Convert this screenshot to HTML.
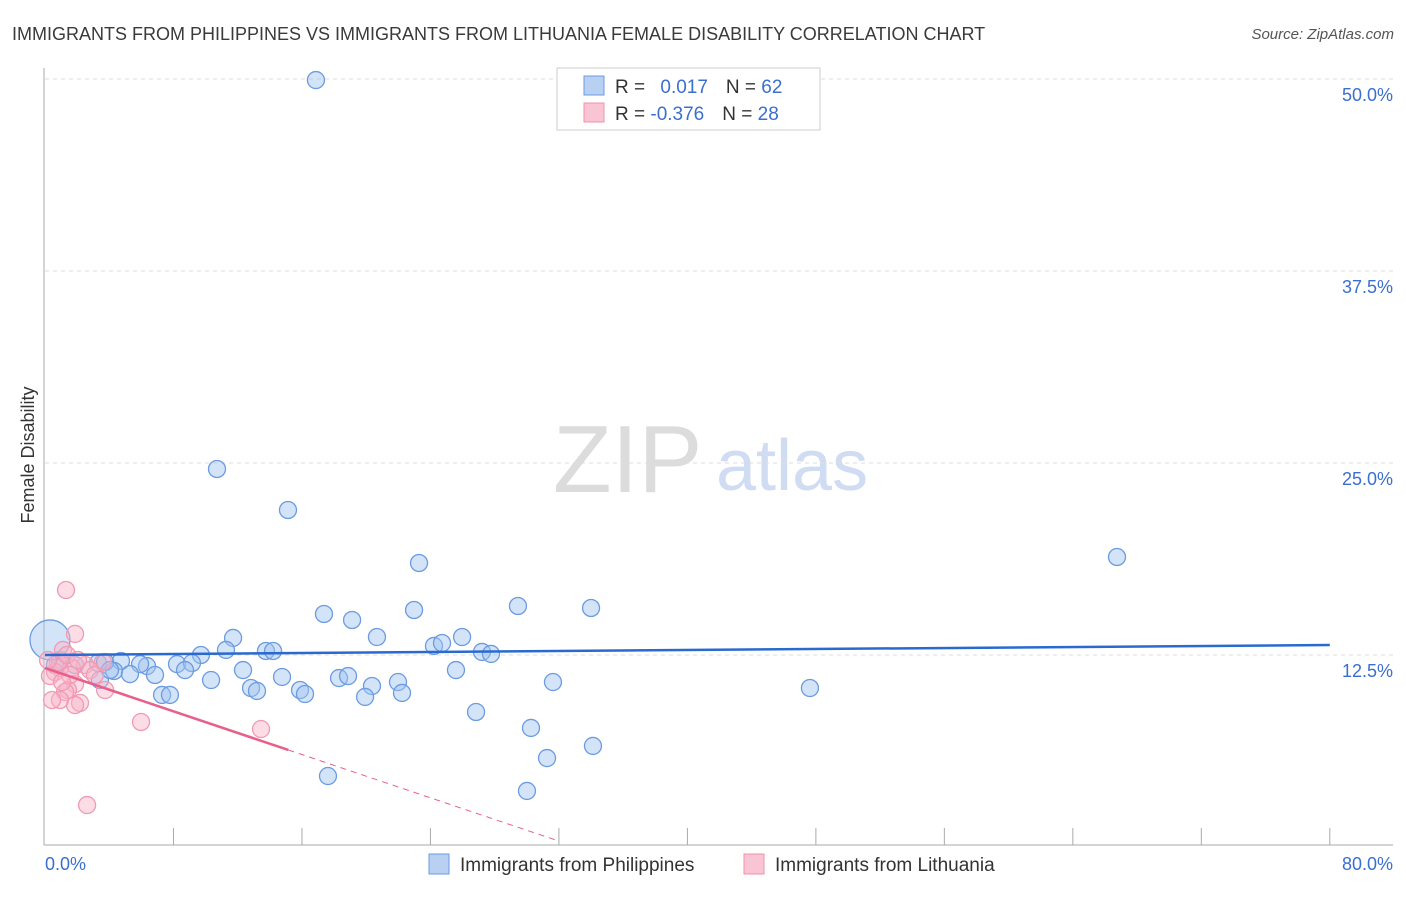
<!DOCTYPE html>
<html><head><meta charset="utf-8"><style>
body{margin:0;background:#fff;font-family:"Liberation Sans",sans-serif;}
svg text{font-family:"Liberation Sans",sans-serif;}
</style></head><body>
<svg id="chart" width="1406" height="892" xmlns="http://www.w3.org/2000/svg">
<text x="12" y="40" font-size="18" fill="#3a3a3a">IMMIGRANTS FROM PHILIPPINES VS IMMIGRANTS FROM LITHUANIA FEMALE DISABILITY CORRELATION CHART</text>
<text x="1394" y="39" font-size="15" fill="#555" font-style="italic" text-anchor="end">Source: ZipAtlas.com</text>
<g>
<text x="553" y="492" font-size="96" fill="#dcdcdc" font-family="Liberation Serif, serif">ZIP</text>
<text x="716" y="490" font-size="72" fill="#cfdcf2">atlas</text>
</g>
<g id="grid"></g>
<g id="axes"></g>
<g id="pts"></g>
<g id="trend"></g>
<text transform="translate(34,455) rotate(-90)" font-size="18" fill="#333" text-anchor="middle">Female Disability</text>
<g>
<rect x="557" y="68" width="263" height="62" fill="#fff" stroke="#ccc"/>
<rect x="584" y="76" width="20" height="19" fill="#b8d1f3" stroke="#6b9be0"/>
<rect x="584" y="103" width="20" height="19" fill="#f9c4d4" stroke="#f090ae"/>
<text x="615" y="93" font-size="19" fill="#333">R = <tspan fill="#3a6fd0" dx="10">0.017</tspan><tspan dx="18" fill="#333">N = </tspan><tspan fill="#3a6fd0">62</tspan></text>
<text x="615" y="120" font-size="19" fill="#333">R = <tspan fill="#3a6fd0">-0.376</tspan><tspan dx="18" fill="#333">N = </tspan><tspan fill="#3a6fd0">28</tspan></text>
</g>
<g>
<rect x="429" y="854" width="20" height="20" fill="#b8d1f3" stroke="#6b9be0"/>
<text x="460" y="871" font-size="19" fill="#333">Immigrants from Philippines</text>
<rect x="744" y="854" width="20" height="20" fill="#f9c4d4" stroke="#f090ae"/>
<text x="775" y="871" font-size="19" fill="#333">Immigrants from Lithuania</text>
</g>
</svg>
<script>
const yTicks=[12.5,25,37.5,50];
const yTickLabels=["12.5%","25.0%","37.5%","50.0%"];
const xTickLabels=["0.0%","80.0%"];
const blueX=[16.87,10.71,15.13,23.29,66.75,17.37,19.12,22.98,29.45,34.0,20.67,24.22,24.72,25.97,27.21,27.77,11.71,13.76,14.2,11.27,9.71,8.22,9.15,6.35,5.92,4.73,4.3,5.29,6.85,8.72,10.34,12.33,14.76,18.31,18.87,20.36,21.98,22.23,19.93,15.88,16.19,12.83,13.2,7.29,7.78,25.59,31.63,47.63,26.84,30.26,31.26,34.12,17.62,30.01,3.42,3.3,3.74,1.87,0.93,0.62,4.05,0.31];
const blueY=[49.93,24.61,21.94,18.49,18.88,15.17,14.78,15.43,15.69,15.56,13.67,13.09,13.28,13.67,12.7,12.57,13.61,12.76,12.76,12.83,12.5,11.91,11.98,11.78,11.91,12.11,11.46,11.26,11.2,11.52,10.87,11.52,11.07,11.0,11.13,10.48,10.74,10.03,9.77,10.22,9.96,10.35,10.16,9.9,9.9,11.52,10.74,10.35,8.79,7.75,5.79,6.58,4.62,3.65,10.87,11.98,12.04,11.85,12.17,11.85,11.52,13.48];
const pinkX=[1.31,1.87,1.12,3.61,2.49,1.68,0.93,0.62,0.31,1.87,1.43,1.25,3.74,2.18,1.87,0.93,0.44,5.98,13.45,2.62,0.81,1.56,2.8,1.06,1.37,0.19,2.05,3.11];
const pinkY=[16.73,13.87,12.83,12.04,11.85,11.65,11.65,11.39,11.13,10.61,10.22,10.09,10.22,9.38,9.24,9.57,9.57,8.14,7.68,2.73,12.04,11.2,11.52,10.74,12.5,12.17,12.17,11.2];
const blueTrend=[12.5,13.15];
const pinkTrend=[11.65,-0.352];
const NS="http://www.w3.org/2000/svg";
const X=v=>45+v*16.06, Y=v=>847-v*15.36;
function mk(p,t,a){const e=document.createElementNS(NS,t);for(const k in a)e.setAttribute(k,a[k]);document.getElementById(p).appendChild(e);return e;}
yTicks.forEach((t,i)=>{
 const g=mk('grid','line',{x1:45,x2:1393,y1:Y(t),y2:Y(t),stroke:'#ddd','stroke-dasharray':'4,4'});
 
 
 const l=mk('grid','text',{x:1393,y:Y(t)+22,'font-size':18,fill:'#3a6fd0','text-anchor':'end'});
 l.textContent=yTickLabels[i];
 
 
});
let ax=mk('axes','line',{x1:44,x2:44,y1:68,y2:845,stroke:'#aaa'});


ax=mk('axes','line',{x1:44,x2:1393,y1:845,y2:845,stroke:'#aaa'});


for(let i=1;i<=10;i++){const t=mk('axes','line',{x1:X(i*8),x2:X(i*8),y1:828,y2:845,stroke:'#aaa'});
 
 }
[[0,'start',45],[80,'end',1393]].forEach((d,i)=>{const l=mk('axes','text',{x:d[2],y:870,'font-size':18,fill:'#3a6fd0','text-anchor':d[1]});l.textContent=xTickLabels[i];
 
 });
blueX.forEach((x,i)=>{const c=mk('pts','circle',{cx:X(x),cy:Y(blueY[i]),r:i==blueX.length-1?20:8.5,fill:'rgba(160,195,240,0.45)',stroke:'#6b9be0','stroke-width':1.3});
 
 });
pinkX.forEach((x,i)=>{const c=mk('pts','circle',{cx:X(x),cy:Y(pinkY[i]),r:8.5,fill:'rgba(248,180,200,0.45)',stroke:'#f09ab4','stroke-width':1.3});
 
 });
let t=mk('trend','line',{x1:X(0),y1:Y(blueTrend[0]),x2:X(80),y2:Y(blueTrend[1]),stroke:'#2a6ad0','stroke-width':2.5});


const pmax=Math.max(...pinkX)+1.7;
t=mk('trend','line',{x1:X(0),y1:Y(pinkTrend[0]),x2:X(pmax),y2:Y(pinkTrend[0]+pinkTrend[1]*pmax),stroke:'#e8608a','stroke-width':2.5});


const pend=31.8;
t=mk('trend','line',{x1:X(pmax),y1:Y(pinkTrend[0]+pinkTrend[1]*pmax),x2:X(pend),y2:Y(pinkTrend[0]+pinkTrend[1]*pend),stroke:'#e8608a','stroke-width':1,'stroke-dasharray':'6,5'});


</script>
</body></html>
